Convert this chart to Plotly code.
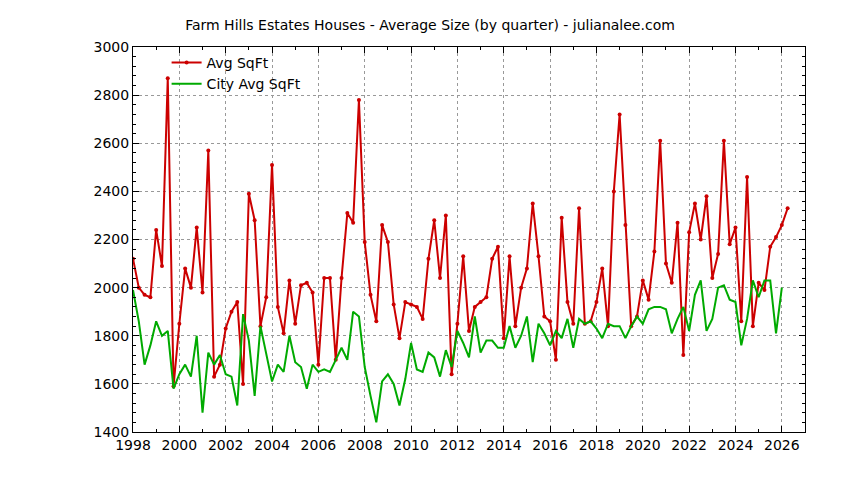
import plotly.graph_objects as go

avg_sqft = [2120, 2000, 1970, 1960, 2240, 2090, 2870, 1590, 1850, 2080, 2000, 2250, 1980, 2570, 1630,
            1680, 1830, 1900, 1940, 1600, 2390, 2280, 1840, 1960, 2510, 1920, 1810, 2030, 1850, 2010,
            2020, 1980, 1680, 2040, 2040, 1700, 2040, 2310, 2270, 2780, 2190, 1970, 1860, 2260, 2190,
            1930, 1790, 1940, 1930, 1920, 1870, 2120, 2280, 2040, 2300, 1640, 1850, 2130, 1820, 1920,
            1940, 1960, 2120, 2170, 1790, 2130, 1840, 2000, 2080, 2350, 2130, 1880, 1860, 1700, 2290,
            1940, 1850, 2330, 1850, 1860, 1940, 2080, 1840, 2400, 2720, 2260, 1840, 1880, 2030, 1950,
            2150, 2610, 2100, 2020, 2270, 1720, 2230, 2350, 2200, 2380, 2040, 2140, 2610, 2180, 2250,
            1860, 2460, 1840, 2020, 1990, 2170, 2210, 2260, 2330]
city_avg_sqft = [1990, 1860, 1680, 1760, 1860, 1800, 1820, 1580, 1640, 1680, 1630, 1800, 1480, 1730, 1680,
                 1720, 1640, 1630, 1510, 1890, 1780, 1550, 1840, 1720, 1610, 1680, 1650, 1800, 1690, 1670,
                 1580, 1680, 1650, 1660, 1650, 1700, 1750, 1700, 1900, 1880, 1670, 1550, 1440, 1610, 1640,
                 1600, 1510, 1620, 1770, 1660, 1650, 1730, 1710, 1630, 1740, 1670, 1820, 1770, 1710, 1880,
                 1730, 1780, 1780, 1750, 1750, 1840, 1750, 1800, 1880, 1690, 1850, 1810, 1760, 1820, 1790,
                 1870, 1750, 1870, 1850, 1860, 1830, 1790, 1850, 1840, 1840, 1790, 1840, 1880, 1850, 1910,
                 1920, 1920, 1910, 1810, 1870, 1920, 1820, 1970, 2030, 1820, 1870, 2000, 2010, 1950, 1940,
                 1760, 1870, 2030, 1960, 2030, 2030, 1810, 2000]
start_year = 1998.0

x_avg = [start_year + i * 0.25 for i in range(len(avg_sqft))]
x_city = [start_year + i * 0.25 for i in range(len(city_avg_sqft))]

fig = go.Figure()
fig.add_trace(go.Scatter(x=x_avg, y=avg_sqft, name="Avg SqFt", mode="lines+markers",
                         line=dict(color="#cc0000", width=2), marker=dict(size=4, color="#cc0000")))
fig.add_trace(go.Scatter(x=x_city, y=city_avg_sqft, name="City Avg SqFt", mode="lines",
                         line=dict(color="#00aa00", width=2)))

axis = dict(showline=True, linecolor="black", linewidth=1, mirror="ticks", ticks="inside",
            ticklen=6, tickcolor="black", showgrid=True, gridcolor="#999999", griddash="dot",
            zeroline=False, tickfont=dict(size=14, color="black"))
fig.update_xaxes(range=[1998, 2027], dtick=2, tick0=1998, minor=dict(ticks="inside", ticklen=3, dtick=1), **axis)
fig.update_yaxes(range=[1400, 3000], dtick=200, minor=dict(ticks="inside", ticklen=3, dtick=40), **axis)
fig.update_layout(
    width=844, height=480, plot_bgcolor="white", paper_bgcolor="white",
    font=dict(family="DejaVu Sans", size=14, color="black"),
    title=dict(text="Farm Hills Estates Houses - Average Size (by quarter) - julianalee.com",
               x=0.5, xanchor="center", y=0.975, font=dict(size=14)),
    margin=dict(l=125, r=47, t=39, b=56),
    legend=dict(x=0.05, y=1.0, xanchor="left", yanchor="top", bgcolor="rgba(0,0,0,0)",
                font=dict(size=14)),
    showlegend=True,
)
fig.write_html("out.html")
